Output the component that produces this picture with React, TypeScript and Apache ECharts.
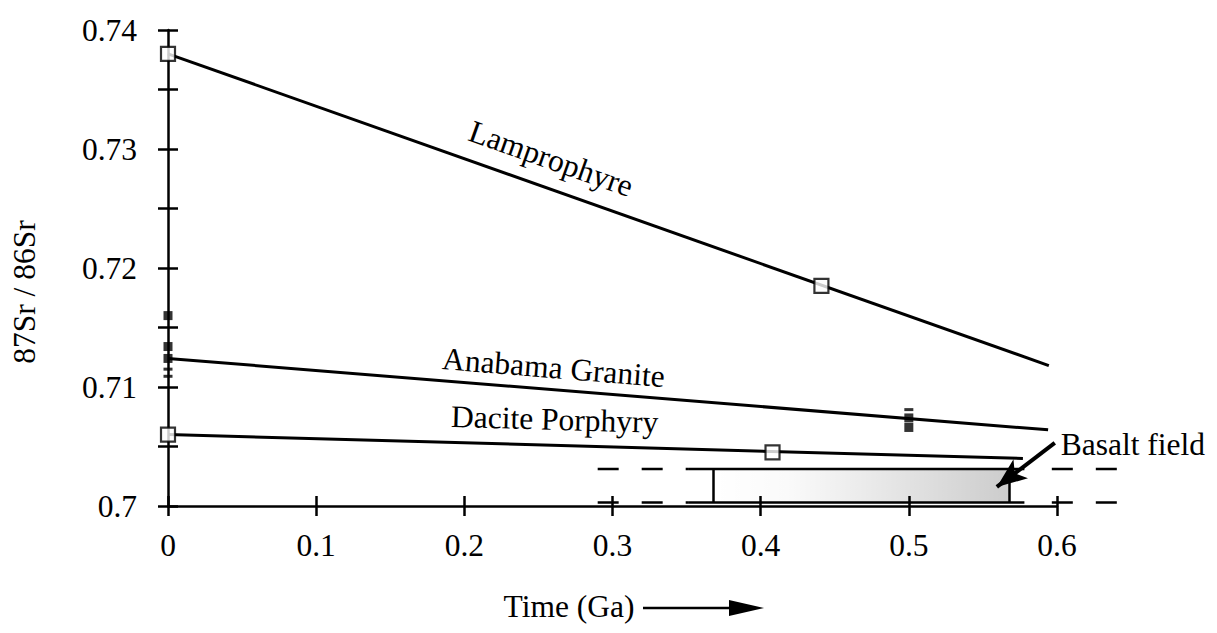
import React, { useEffect, useRef } from 'react';
import * as echarts from 'echarts';

// ---- data ----
const X_TICKS = [0, 0.1, 0.2, 0.3, 0.4, 0.5, 0.6];
const Y_TICKS = [0.7, 0.71, 0.72, 0.73, 0.74];

const LAMPROPHYRE_LINE = [[0, 0.738], [0.5945, 0.7118]];
const ANABAMA_LINE = [[0, 0.7124], [0.594, 0.7064]];
const DACITE_LINE = [[0, 0.706], [0.577, 0.704]];

const OPEN_SQUARES = [[0, 0.738], [0.441, 0.7185], [0, 0.706], [0.408, 0.7045]];
const FILLED_SQUARES = [[0, 0.716], [0, 0.7134], [0, 0.7124], [0.5, 0.7074], [0.5, 0.7066]];
const FILLED_DASHES = [[0, 0.7115], [0, 0.7109], [0.5, 0.7081]];

const BASALT_SR = [0.7003, 0.7031];
const BASALT_SOLID_X = [0.351, 0.578];
const BASALT_BOX_X = [0.368, 0.568];
const BASALT_DASH_LEFT_X = [0.29, 0.351];
const BASALT_DASH_RIGHT_X = [0.5965, 0.645];
const BASALT_ARROW = [[0.5985, 0.7053], [0.5594, 0.7016]];
const BASALT_LABEL_AT = [0.6025, 0.7052];

const LINE_LABELS = [
  { text: 'Lamprophyre', line: LAMPROPHYRE_LINE, at: 0.252, above: 29 },
  { text: 'Anabama Granite', line: ANABAMA_LINE, at: 0.259, above: 22 },
  { text: 'Dacite Porphyry', line: DACITE_LINE, at: 0.2605, above: 26 },
];

const FONT = '"Liberation Serif", "DejaVu Serif", serif';
const FS = 31.5;
const BLACK = '#000';
const DASH = [21, 23];

function seg(x0: number, y0: number, x1: number, y1: number, extra: any = {}) {
  return [
    { coord: [x0, y0], ...extra },
    { coord: [x1, y1], ...extra },
  ];
}

function dashSeries(name: string, xs: number[], y: number) {
  return {
    type: 'line', name, silent: true, symbol: 'none', z: 2,
    data: [[xs[0], y], [xs[1], y]],
    lineStyle: { color: BLACK, width: 2.5, type: DASH },
  };
}

function buildOption() {
  const axisLineStyle = { color: BLACK, width: 2.5 };
  const tickStyle = { color: BLACK, width: 2.5 };
  const xLabel = (v: number) => {
    const r = Math.round(v * 10) / 10;
    return X_TICKS.some((t) => Math.abs(t - r) < 1e-9) ? String(r) : '';
  };
  const yLabel = (v: number) => {
    const r = Math.round(v * 1000) / 1000;
    return Y_TICKS.some((t) => Math.abs(t - r) < 1e-9) ? String(Math.round(v * 100) / 100) : '';
  };
  const gradient = new echarts.graphic.LinearGradient(0, 0, 1, 0, [
    { offset: 0, color: 'rgba(0,0,0,0)' },
    { offset: 0.25, color: 'rgba(0,0,0,0.02)' },
    { offset: 0.6, color: 'rgba(0,0,0,0.1)' },
    { offset: 1, color: 'rgba(0,0,0,0.2)' },
  ]);

  return {
    animation: false,
    backgroundColor: '#fff',
    grid: { left: 168, right: 160, top: 30, bottom: 127, containLabel: false },
    xAxis: [
      {
        type: 'value', min: 0, max: 0.6, interval: 0.1, position: 'bottom',
        axisLine: { show: true, onZero: false, lineStyle: axisLineStyle },
        axisTick: { show: true, length: 10, lineStyle: tickStyle },
        axisLabel: { margin: 23, fontSize: FS, fontFamily: FONT, color: BLACK, formatter: xLabel },
        splitLine: { show: false },
      },
      {
        type: 'value', min: 0, max: 0.6, interval: 0.1, position: 'bottom',
        axisLine: { show: false, onZero: false },
        axisTick: { show: true, inside: true, length: 10, lineStyle: tickStyle },
        axisLabel: { show: false },
        splitLine: { show: false },
      },
    ],
    yAxis: [
      {
        type: 'value', min: 0.7, max: 0.74, interval: 0.005, position: 'left',
        axisLine: { show: true, onZero: false, lineStyle: axisLineStyle },
        axisTick: { show: true, length: 10, lineStyle: tickStyle },
        axisLabel: {
          margin: 31, fontSize: FS, fontFamily: FONT, color: BLACK, formatter: yLabel,
          padding: [0, 0, 8, 0],
        },
        splitLine: { show: false },
      },
      {
        type: 'value', min: 0.7, max: 0.74, interval: 0.005, position: 'left',
        axisLine: { show: false, onZero: false },
        axisTick: { show: true, inside: true, length: 10, lineStyle: tickStyle },
        axisLabel: { show: false },
        splitLine: { show: false },
      },
    ],
    series: [
      {
        type: 'line', name: 'Lamprophyre', data: LAMPROPHYRE_LINE, symbol: 'none', silent: true, z: 3,
        lineStyle: { color: BLACK, width: 3 },
      },
      {
        type: 'line', name: 'Anabama Granite', data: ANABAMA_LINE, symbol: 'none', silent: true, z: 3,
        lineStyle: { color: BLACK, width: 3 },
      },
      {
        type: 'line', name: 'Dacite Porphyry', data: DACITE_LINE, symbol: 'none', silent: true, z: 3,
        lineStyle: { color: BLACK, width: 3 },
      },
      {
        type: 'line', name: 'Basalt field',
        data: [[BASALT_SOLID_X[0], BASALT_SR[1]], [BASALT_SOLID_X[1], BASALT_SR[1]]],
        symbol: 'none', silent: true, z: 2,
        lineStyle: { color: BLACK, width: 2.5 },
        markArea: {
          silent: true,
          itemStyle: { color: gradient },
          data: [[{ coord: [BASALT_BOX_X[0], BASALT_SR[0]] }, { coord: [BASALT_BOX_X[1], BASALT_SR[1]] }]],
        },
        markLine: {
          silent: true,
          symbol: 'none',
          label: { show: false },
          lineStyle: { color: BLACK, width: 2.5, type: 'solid' },
          data: [
            seg(BASALT_SOLID_X[0], BASALT_SR[0], BASALT_SOLID_X[1], BASALT_SR[0]),
            seg(BASALT_BOX_X[0], BASALT_SR[0], BASALT_BOX_X[0], BASALT_SR[1]),
            seg(BASALT_BOX_X[1], BASALT_SR[0], BASALT_BOX_X[1], BASALT_SR[1]),
            [
              { coord: BASALT_ARROW[0], symbol: 'none', lineStyle: { color: BLACK, width: 4, type: 'solid' } },
              { coord: BASALT_ARROW[1], symbol: 'arrow', symbolSize: [18, 30], lineStyle: { color: BLACK, width: 4, type: 'solid' } },
            ],
          ],
        },
      },
      dashSeries('Basalt field upper (left)', BASALT_DASH_LEFT_X, BASALT_SR[1]),
      dashSeries('Basalt field lower (left)', BASALT_DASH_LEFT_X, BASALT_SR[0]),
      {
        type: 'scatter', name: 'samples (open)', data: OPEN_SQUARES, symbol: 'rect', symbolSize: 14, z: 6, silent: true,
        itemStyle: { color: '#fff', borderColor: BLACK, borderWidth: 2.2 },
      },
      {
        type: 'scatter', name: 'samples (filled)', data: FILLED_SQUARES, symbol: 'rect', symbolSize: 9, z: 6, silent: true,
        itemStyle: { color: BLACK },
      },
      {
        type: 'scatter', name: 'samples (filled small)', data: FILLED_DASHES, symbol: 'rect', symbolSize: [9, 3], z: 6, silent: true,
        itemStyle: { color: BLACK },
      },
    ],
  };
}

export default function App() {
  const ref = useRef<HTMLDivElement>(null);
  useEffect(() => {
    const chart = echarts.init(ref.current as HTMLDivElement, null, { renderer: 'svg' });
    chart.setOption(buildOption() as any);
    const toPx = (p: number[]) => chart.convertToPixel({ xAxisIndex: 0, yAxisIndex: 0 } as any, p) as unknown as number[];

    const elements: any[] = [];
    LINE_LABELS.forEach((l, i) => {
      const p0 = toPx(l.line[0]);
      const p1 = toPx(l.line[1]);
      const ang = Math.atan2(p1[1] - p0[1], p1[0] - p0[0]);
      const t = (l.at - l.line[0][0]) / (l.line[1][0] - l.line[0][0]);
      const px = p0[0] + t * (p1[0] - p0[0]);
      const py = p0[1] + t * (p1[1] - p0[1]);
      elements.push({
        type: 'text', id: 'lbl' + i, x: px, y: py, rotation: -ang, silent: true, z: 10,
        style: { text: l.text, x: 0, y: -l.above, align: 'center', verticalAlign: 'middle', font: `${FS}px ${FONT}`, fill: BLACK },
      });
    });
    // right-hand dashed extensions of the basalt field (beyond the x-axis end)
    BASALT_SR.forEach((sr, i) => {
      const a = toPx([BASALT_DASH_RIGHT_X[0], sr]);
      const b = toPx([BASALT_DASH_RIGHT_X[1], sr]);
      elements.push({
        type: 'line', id: 'rdash' + i, silent: true, z: 2,
        shape: { x1: a[0], y1: a[1], x2: b[0], y2: b[1] },
        style: { stroke: BLACK, lineWidth: 2.5, lineDash: DASH },
      });
    });
    const bp = toPx(BASALT_LABEL_AT);
    elements.push({
      type: 'text', id: 'basalt', x: bp[0], y: bp[1], silent: true, z: 10,
      style: { text: 'Basalt field', align: 'left', verticalAlign: 'middle', font: `${FS}px ${FONT}`, fill: BLACK },
    });
    // axis titles
    elements.push({
      type: 'text', id: 'yname', x: 24, y: 292, rotation: Math.PI / 2, silent: true,
      style: { text: '87Sr / 86Sr', align: 'center', verticalAlign: 'middle', font: `${FS}px ${FONT}`, fill: BLACK },
    });
    elements.push({
      type: 'text', id: 'xname', x: 569, y: 606, silent: true,
      style: { text: 'Time (Ga)', align: 'center', verticalAlign: 'middle', font: `${FS}px ${FONT}`, fill: BLACK },
    });
    elements.push({
      type: 'line', id: 'xarrowline', silent: true,
      shape: { x1: 643, y1: 608, x2: 735, y2: 608 },
      style: { stroke: BLACK, lineWidth: 2.5 },
    });
    elements.push({
      type: 'polygon', id: 'xarrowhead', silent: true,
      shape: { points: [[729, 600], [764, 608], [729, 616]] },
      style: { fill: BLACK },
    });
    chart.setOption({ graphic: elements });
    return () => chart.dispose();
  }, []);
  return (
    <div
      ref={ref}
      style={{ position: 'fixed', left: 0, top: 0, width: 1217, height: 633, background: '#fff' }}
    />
  );
}
